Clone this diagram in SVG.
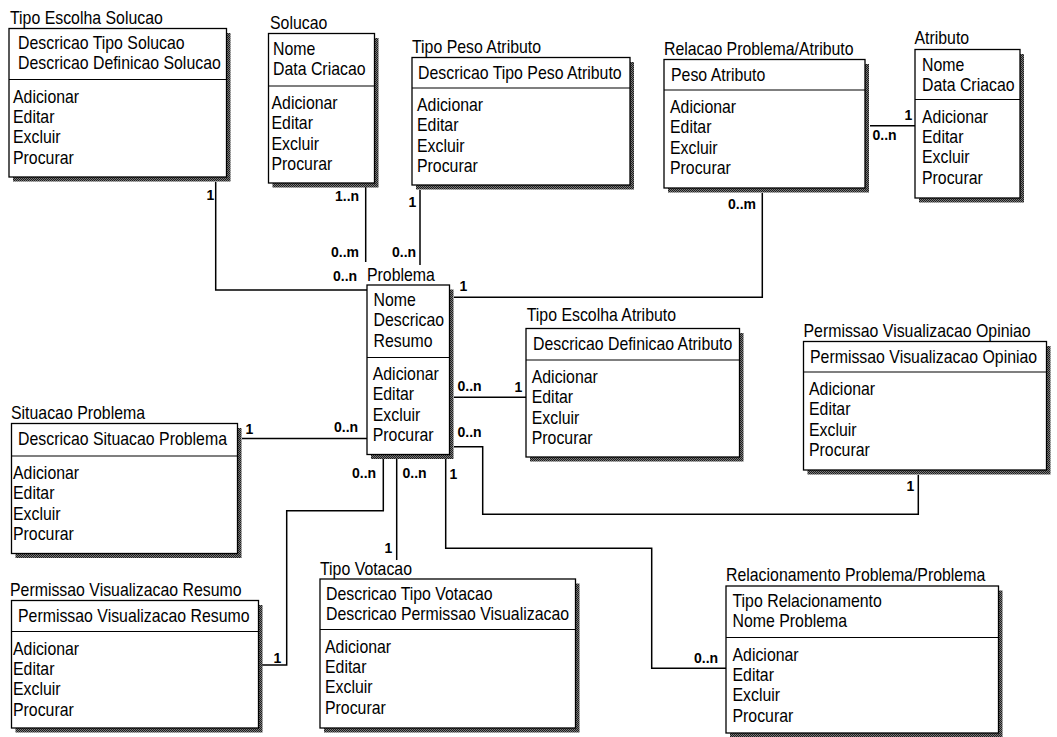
<svg xmlns="http://www.w3.org/2000/svg" width="1057" height="737" viewBox="0 0 1057 737">
  <style>
    .box { fill: #fff; stroke: #000; stroke-width: 1.3; }
    .shadow { fill: url(#dither); }
    .div { stroke: #000; stroke-width: 1.2; }
    .t { font-family: "Liberation Sans", Arial, sans-serif; font-size: 19px; fill: #000; }
    .card { font-family: "Liberation Sans", Arial, sans-serif; font-size: 14px; font-weight: bold; fill: #000; }
    .wire { fill: none; stroke: #000; stroke-width: 1.5; }
  </style>
  <defs>
    <pattern id="dither" width="2" height="2" patternUnits="userSpaceOnUse">
      <rect width="2" height="2" fill="#7a7a7a"/>
      <rect width="1" height="1" fill="#1e1e1e"/>
      <rect x="1" y="1" width="1" height="1" fill="#1e1e1e"/>
    </pattern>
  </defs>
  <rect width="1057" height="737" fill="#fff"/>

  <!-- associations -->
  <g id="connectors">
    <path class="wire" d="M215.7,182 V290 H367"/>
    <path class="wire" d="M365.7,187 V262"/>
    <path class="wire" d="M420,190 V265"/>
    <path class="wire" d="M762.3,193 V297.3 H454"/>
    <path class="wire" d="M870,125.7 H915"/>
    <path class="wire" d="M454,397.3 H526"/>
    <path class="wire" d="M242,438.5 H367"/>
    <path class="wire" d="M454,446.7 H482.7 V514.3 H918.3 V475"/>
    <path class="wire" d="M445.7,459 V548.3 H651.7 V668.3 H726"/>
    <path class="wire" d="M396.7,459 V560"/>
    <path class="wire" d="M383.3,459 V510.7 H286.7 V665 H262"/>

    <text class="card" x="206.5" y="200">1</text>
    <text class="card" x="333" y="281">0..n</text>
    <text class="card" x="335" y="201">1..n</text>
    <text class="card" x="331" y="257">0..m</text>
    <text class="card" x="408.5" y="207">1</text>
    <text class="card" x="392" y="257">0..n</text>
    <text class="card" x="728" y="209">0..m</text>
    <text class="card" x="459.5" y="291">1</text>
    <text class="card" x="904.5" y="120">1</text>
    <text class="card" x="872.5" y="140">0..n</text>
    <text class="card" x="457.5" y="391">0..n</text>
    <text class="card" x="514.5" y="392">1</text>
    <text class="card" x="245.5" y="434">1</text>
    <text class="card" x="334" y="432">0..n</text>
    <text class="card" x="457.5" y="437">0..n</text>
    <text class="card" x="906.5" y="491">1</text>
    <text class="card" x="449.5" y="479">1</text>
    <text class="card" x="694" y="663">0..n</text>
    <text class="card" x="402.5" y="478">0..n</text>
    <text class="card" x="384.5" y="553">1</text>
    <text class="card" x="352" y="478">0..n</text>
    <text class="card" x="273.5" y="663">1</text>
  </g>

  <!-- Tipo Escolha Solucao -->
  <g id="tipo-escolha-solucao">
    <rect class="shadow" x="13" y="33" width="217.5" height="148.5"/>
    <rect class="box" x="9" y="28.5" width="217.5" height="148.5"/>
    <line class="div" x1="9" y1="79.5" x2="226.5" y2="79.5"/>
    <text class="t" transform="translate(10 24) scale(.835 1)">Tipo Escolha Solucao</text>
    <text class="t" transform="translate(18 48.5) scale(.835 1)"><tspan x="0" y="0">Descricao Tipo Solucao</tspan><tspan x="0" y="20.4">Descricao Definicao Solucao</tspan></text>
    <text class="t" transform="translate(13 102.5) scale(.835 1)"><tspan x="0" y="0">Adicionar</tspan><tspan x="0" y="20.4">Editar</tspan><tspan x="0" y="40.8">Excluir</tspan><tspan x="0" y="61.2">Procurar</tspan></text>
  </g>

  <!-- Solucao -->
  <g id="solucao">
    <rect class="shadow" x="272.5" y="38" width="106" height="149.5"/>
    <rect class="box" x="268.5" y="33.5" width="106" height="149.5"/>
    <line class="div" x1="268.5" y1="86" x2="374.5" y2="86"/>
    <text class="t" transform="translate(270 29) scale(.835 1)">Solucao</text>
    <text class="t" transform="translate(273 55) scale(.835 1)"><tspan x="0" y="0">Nome</tspan><tspan x="0" y="20.4">Data Criacao</tspan></text>
    <text class="t" transform="translate(271.5 109) scale(.835 1)"><tspan x="0" y="0">Adicionar</tspan><tspan x="0" y="20.4">Editar</tspan><tspan x="0" y="40.8">Excluir</tspan><tspan x="0" y="61.2">Procurar</tspan></text>
  </g>

  <!-- Tipo Peso Atributo -->
  <g id="tipo-peso-atributo">
    <rect class="shadow" x="416" y="62" width="218" height="127.5"/>
    <rect class="box" x="412" y="57.5" width="218" height="127.5"/>
    <line class="div" x1="412" y1="88" x2="630" y2="88"/>
    <text class="t" transform="translate(412 53) scale(.835 1)">Tipo Peso Atributo</text>
    <text class="t" transform="translate(418 78.5) scale(.835 1)">Descricao Tipo Peso Atributo</text>
    <text class="t" transform="translate(417 111) scale(.835 1)"><tspan x="0" y="0">Adicionar</tspan><tspan x="0" y="20.4">Editar</tspan><tspan x="0" y="40.8">Excluir</tspan><tspan x="0" y="61.2">Procurar</tspan></text>
  </g>

  <!-- Relacao Problema/Atributo -->
  <g id="relacao-problema-atributo">
    <rect class="shadow" x="668" y="64" width="201" height="128.5"/>
    <rect class="box" x="664" y="59.5" width="201" height="128.5"/>
    <line class="div" x1="664" y1="90" x2="865" y2="90"/>
    <text class="t" transform="translate(664 55) scale(.835 1)">Relacao Problema/Atributo</text>
    <text class="t" transform="translate(671 80.5) scale(.835 1)">Peso Atributo</text>
    <text class="t" transform="translate(670 113) scale(.835 1)"><tspan x="0" y="0">Adicionar</tspan><tspan x="0" y="20.4">Editar</tspan><tspan x="0" y="40.8">Excluir</tspan><tspan x="0" y="61.2">Procurar</tspan></text>
  </g>

  <!-- Atributo -->
  <g id="atributo">
    <rect class="shadow" x="919" y="54" width="105" height="148.5"/>
    <rect class="box" x="915" y="49.5" width="105" height="148.5"/>
    <line class="div" x1="915" y1="99.5" x2="1020" y2="99.5"/>
    <text class="t" transform="translate(914.5 44) scale(.835 1)">Atributo</text>
    <text class="t" transform="translate(922 70.5) scale(.835 1)"><tspan x="0" y="0">Nome</tspan><tspan x="0" y="20.4">Data Criacao</tspan></text>
    <text class="t" transform="translate(922 122.5) scale(.835 1)"><tspan x="0" y="0">Adicionar</tspan><tspan x="0" y="20.4">Editar</tspan><tspan x="0" y="40.8">Excluir</tspan><tspan x="0" y="61.2">Procurar</tspan></text>
  </g>

  <!-- Problema -->
  <g id="problema">
    <rect class="shadow" x="371" y="289.5" width="82.5" height="169.5"/>
    <rect class="box" x="367" y="285" width="82.5" height="169.5"/>
    <line class="div" x1="367" y1="357.5" x2="449.5" y2="357.5"/>
    <text class="t" transform="translate(367 280.5) scale(.835 1)">Problema</text>
    <text class="t" transform="translate(373.5 306) scale(.835 1)"><tspan x="0" y="0">Nome</tspan><tspan x="0" y="20.4">Descricao</tspan><tspan x="0" y="40.8">Resumo</tspan></text>
    <text class="t" transform="translate(372.7 380) scale(.835 1)"><tspan x="0" y="0">Adicionar</tspan><tspan x="0" y="20.4">Editar</tspan><tspan x="0" y="40.8">Excluir</tspan><tspan x="0" y="61.2">Procurar</tspan></text>
  </g>

  <!-- Tipo Escolha Atributo -->
  <g id="tipo-escolha-atributo">
    <rect class="shadow" x="530" y="333" width="213.5" height="128.5"/>
    <rect class="box" x="526" y="328.5" width="213.5" height="128.5"/>
    <line class="div" x1="526" y1="360" x2="739.5" y2="360"/>
    <text class="t" transform="translate(526.7 321) scale(.835 1)">Tipo Escolha Atributo</text>
    <text class="t" transform="translate(533 350) scale(.835 1)">Descricao Definicao Atributo</text>
    <text class="t" transform="translate(531.7 383) scale(.835 1)"><tspan x="0" y="0">Adicionar</tspan><tspan x="0" y="20.4">Editar</tspan><tspan x="0" y="40.8">Excluir</tspan><tspan x="0" y="61.2">Procurar</tspan></text>
  </g>

  <!-- Permissao Visualizacao Opiniao -->
  <g id="permissao-visualizacao-opiniao">
    <rect class="shadow" x="807.5" y="346" width="243" height="128.5"/>
    <rect class="box" x="803.5" y="341.5" width="243" height="128.5"/>
    <line class="div" x1="803.5" y1="372" x2="1046.5" y2="372"/>
    <text class="t" transform="translate(803.5 336.5) scale(.835 1)">Permissao Visualizacao Opiniao</text>
    <text class="t" transform="translate(810 362.5) scale(.835 1)">Permissao Visualizacao Opiniao</text>
    <text class="t" transform="translate(809 395) scale(.835 1)"><tspan x="0" y="0">Adicionar</tspan><tspan x="0" y="20.4">Editar</tspan><tspan x="0" y="40.8">Excluir</tspan><tspan x="0" y="61.2">Procurar</tspan></text>
  </g>

  <!-- Situacao Problema -->
  <g id="situacao-problema">
    <rect class="shadow" x="15.5" y="428" width="226" height="130"/>
    <rect class="box" x="11.5" y="423.5" width="226" height="130"/>
    <line class="div" x1="11.5" y1="456" x2="237.5" y2="456"/>
    <text class="t" transform="translate(11 418.5) scale(.835 1)">Situacao Problema</text>
    <text class="t" transform="translate(18 445) scale(.835 1)">Descricao Situacao Problema</text>
    <text class="t" transform="translate(13 479) scale(.835 1)"><tspan x="0" y="0">Adicionar</tspan><tspan x="0" y="20.4">Editar</tspan><tspan x="0" y="40.8">Excluir</tspan><tspan x="0" y="61.2">Procurar</tspan></text>
  </g>

  <!-- Permissao Visualizacao Resumo -->
  <g id="permissao-visualizacao-resumo">
    <rect class="shadow" x="15.5" y="605" width="247" height="127.5"/>
    <rect class="box" x="11.5" y="600.5" width="247" height="127.5"/>
    <line class="div" x1="11.5" y1="631.5" x2="258.5" y2="631.5"/>
    <text class="t" transform="translate(10 596) scale(.835 1)">Permissao Visualizacao Resumo</text>
    <text class="t" transform="translate(18 622) scale(.835 1)">Permissao Visualizacao Resumo</text>
    <text class="t" transform="translate(13 654.5) scale(.835 1)"><tspan x="0" y="0">Adicionar</tspan><tspan x="0" y="20.4">Editar</tspan><tspan x="0" y="40.8">Excluir</tspan><tspan x="0" y="61.2">Procurar</tspan></text>
  </g>

  <!-- Tipo Votacao -->
  <g id="tipo-votacao">
    <rect class="shadow" x="324" y="583.5" width="255.5" height="149"/>
    <rect class="box" x="320" y="579" width="255.5" height="149"/>
    <line class="div" x1="320" y1="629.5" x2="575.5" y2="629.5"/>
    <text class="t" transform="translate(320 574.5) scale(.835 1)">Tipo Votacao</text>
    <text class="t" transform="translate(326 600) scale(.835 1)"><tspan x="0" y="0">Descricao Tipo Votacao</tspan><tspan x="0" y="20.4">Descricao Permissao Visualizacao</tspan></text>
    <text class="t" transform="translate(325 652.5) scale(.835 1)"><tspan x="0" y="0">Adicionar</tspan><tspan x="0" y="20.4">Editar</tspan><tspan x="0" y="40.8">Excluir</tspan><tspan x="0" y="61.2">Procurar</tspan></text>
  </g>

  <!-- Relacionamento Problema/Problema -->
  <g id="relacionamento-problema-problema">
    <rect class="shadow" x="730" y="590.5" width="272.5" height="147"/>
    <rect class="box" x="726" y="586" width="272.5" height="147"/>
    <line class="div" x1="726" y1="637.5" x2="998.5" y2="637.5"/>
    <text class="t" transform="translate(726 581) scale(.835 1)">Relacionamento Problema/Problema</text>
    <text class="t" transform="translate(732.5 607) scale(.835 1)"><tspan x="0" y="0">Tipo Relacionamento</tspan><tspan x="0" y="20.4">Nome Problema</tspan></text>
    <text class="t" transform="translate(732.5 660.5) scale(.835 1)"><tspan x="0" y="0">Adicionar</tspan><tspan x="0" y="20.4">Editar</tspan><tspan x="0" y="40.8">Excluir</tspan><tspan x="0" y="61.2">Procurar</tspan></text>
  </g>
</svg>
